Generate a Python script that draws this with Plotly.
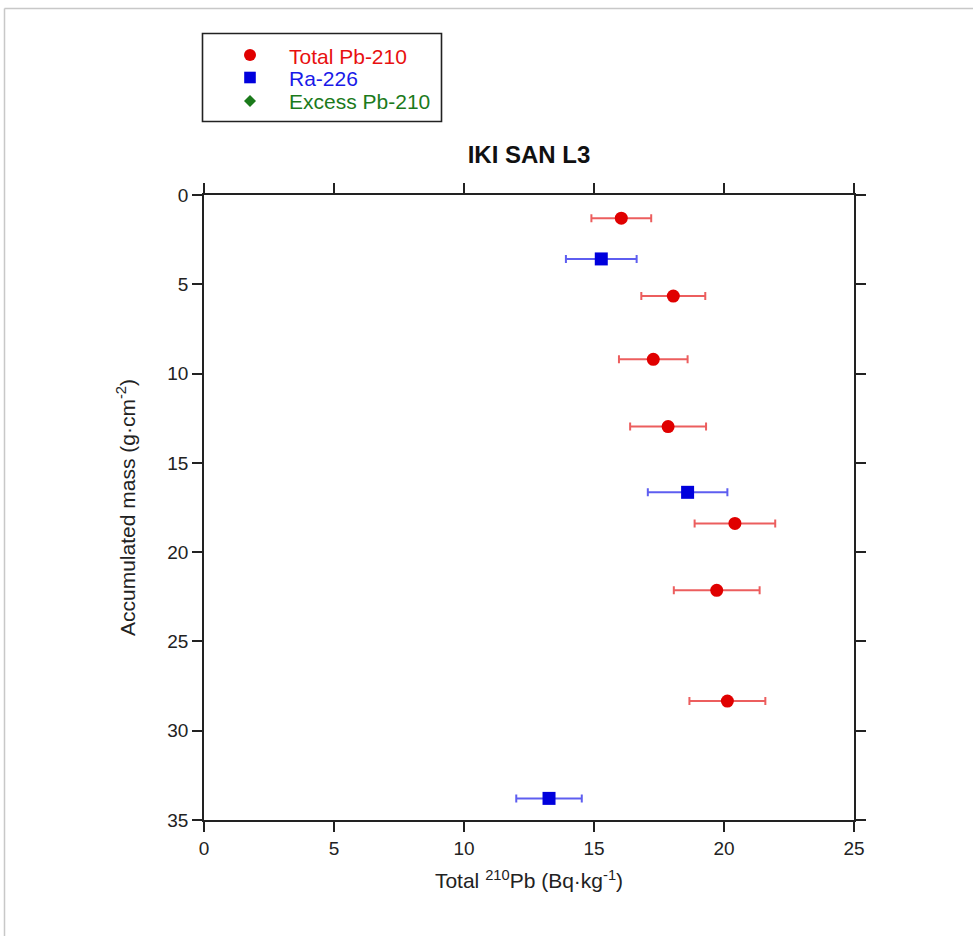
import plotly.graph_objects as go

# Data
pb_total_x = [16.05, 18.05, 17.28, 17.85, 20.42, 19.72, 20.13]
pb_total_err = [1.15, 1.23, 1.32, 1.46, 1.55, 1.65, 1.46]
pb_total_y = [1.30, 5.66, 9.20, 12.97, 18.39, 22.14, 28.34]

ra_x = [15.28, 18.60, 13.27]
ra_err = [1.36, 1.53, 1.26]
ra_y = [3.58, 16.65, 33.79]

excess_x = []
excess_y = []

x_ticks = [0, 5, 10, 15, 20, 25]
y_ticks = [0, 5, 10, 15, 20, 25, 30, 35]

series_names = ["Total Pb-210", "Ra-226", "Excess Pb-210"]

FONT = "Liberation Sans, Arial, sans-serif"
RED = "#e00000"
BLUE = "#0000dd"
GREEN = "#1b7a1b"
TEXT_COLORS = ["#e81010", "#1a1ae8", "#1b7a1b"]

fig = go.Figure()
fig.add_trace(go.Scatter(
    x=pb_total_x, y=pb_total_y, mode="markers", name=series_names[0],
    marker=dict(symbol="circle", size=13, color=RED),
    error_x=dict(type="data", array=pb_total_err, visible=True,
                 color="rgba(230,40,40,0.75)", thickness=2, width=4),
))
fig.add_trace(go.Scatter(
    x=ra_x, y=ra_y, mode="markers", name=series_names[1],
    marker=dict(symbol="square", size=13, color=BLUE),
    error_x=dict(type="data", array=ra_err, visible=True,
                 color="rgba(40,40,235,0.75)", thickness=2, width=4),
))
fig.add_trace(go.Scatter(
    x=excess_x, y=excess_y, mode="markers", name=series_names[2],
    marker=dict(symbol="diamond", size=10, color=GREEN),
))

W, H = 973, 936
L, R, T, B = 204, 854, 195, 820

axis_common = dict(
    showline=True, linecolor="#222", linewidth=1.8, mirror="ticks",
    ticks="outside", ticklen=10, tickwidth=1.5, tickcolor="#222",
    showgrid=False, zeroline=False,
    tickfont=dict(family=FONT, size=19, color="#222"),
)

fig.update_xaxes(range=[0, 25], tickvals=x_ticks, **axis_common,
                 title=dict(text="Total <sup>210</sup>Pb (Bq·kg<sup>-1</sup>)",
                            font=dict(family=FONT, size=21, color="#222"),
                            standoff=16))
fig.update_yaxes(range=[35, 0], tickvals=y_ticks, **axis_common,
                 title=dict(text="Accumulated mass (g·cm<sup>-2</sup>)",
                            font=dict(family=FONT, size=21, color="#222"),
                            standoff=26))


def px_x(p):
    return (p - L) / (R - L)


def px_y(p):
    return (B - p) / (B - T)


# outer page border (light gray)
fig.add_shape(type="line", xref="paper", yref="paper",
              x0=px_x(4.5), x1=px_x(980), y0=px_y(8.5), y1=px_y(8.5),
              line=dict(color="#c8c8c8", width=1.5))
fig.add_shape(type="line", xref="paper", yref="paper",
              x0=px_x(4.5), x1=px_x(4.5), y0=px_y(8.5), y1=px_y(940),
              line=dict(color="#c8c8c8", width=1.5))

# legend box
fig.add_shape(type="rect", xref="paper", yref="paper",
              x0=px_x(202.5), x1=px_x(441.5), y0=px_y(33.5), y1=px_y(121.5),
              line=dict(color="#222", width=1.6), fillcolor="white")

leg_y = [55, 77.5, 101]
mx = 250
# circle
r = 6
fig.add_shape(type="circle", xref="paper", yref="paper",
              x0=px_x(mx - r), x1=px_x(mx + r),
              y0=px_y(leg_y[0] - r), y1=px_y(leg_y[0] + r),
              line=dict(width=0), fillcolor=RED)
# square
s = 5.8
fig.add_shape(type="rect", xref="paper", yref="paper",
              x0=px_x(mx - s), x1=px_x(mx + s),
              y0=px_y(leg_y[1] - s), y1=px_y(leg_y[1] + s),
              line=dict(width=0), fillcolor=BLUE)
# diamond
d = 6
path = "M {x0},{ym} L {xm},{y0} L {x1},{ym} L {xm},{y1} Z".format(
    x0=px_x(mx - d), x1=px_x(mx + d), xm=px_x(mx),
    y0=px_y(leg_y[2] - d), y1=px_y(leg_y[2] + d), ym=px_y(leg_y[2]))
fig.add_shape(type="path", xref="paper", yref="paper", path=path,
              line=dict(width=0), fillcolor=GREEN)

for name, yy, col in zip(series_names, leg_y, TEXT_COLORS):
    fig.add_annotation(xref="paper", yref="paper", x=px_x(287), y=px_y(yy + 1),
                       text=name, showarrow=False, xanchor="left",
                       yanchor="middle",
                       font=dict(family=FONT, size=21, color=col))

fig.update_layout(
    width=W, height=H,
    margin=dict(l=L, r=W - R, t=T, b=H - B),
    paper_bgcolor="white", plot_bgcolor="white",
    title=dict(text="<b>IKI SAN L3</b>", x=529 / W, xanchor="center",
               y=1 - 155 / H, yanchor="middle",
               font=dict(family=FONT, size=24, color="#111")),
    showlegend=False,
)

fig.write_html("out.html")
